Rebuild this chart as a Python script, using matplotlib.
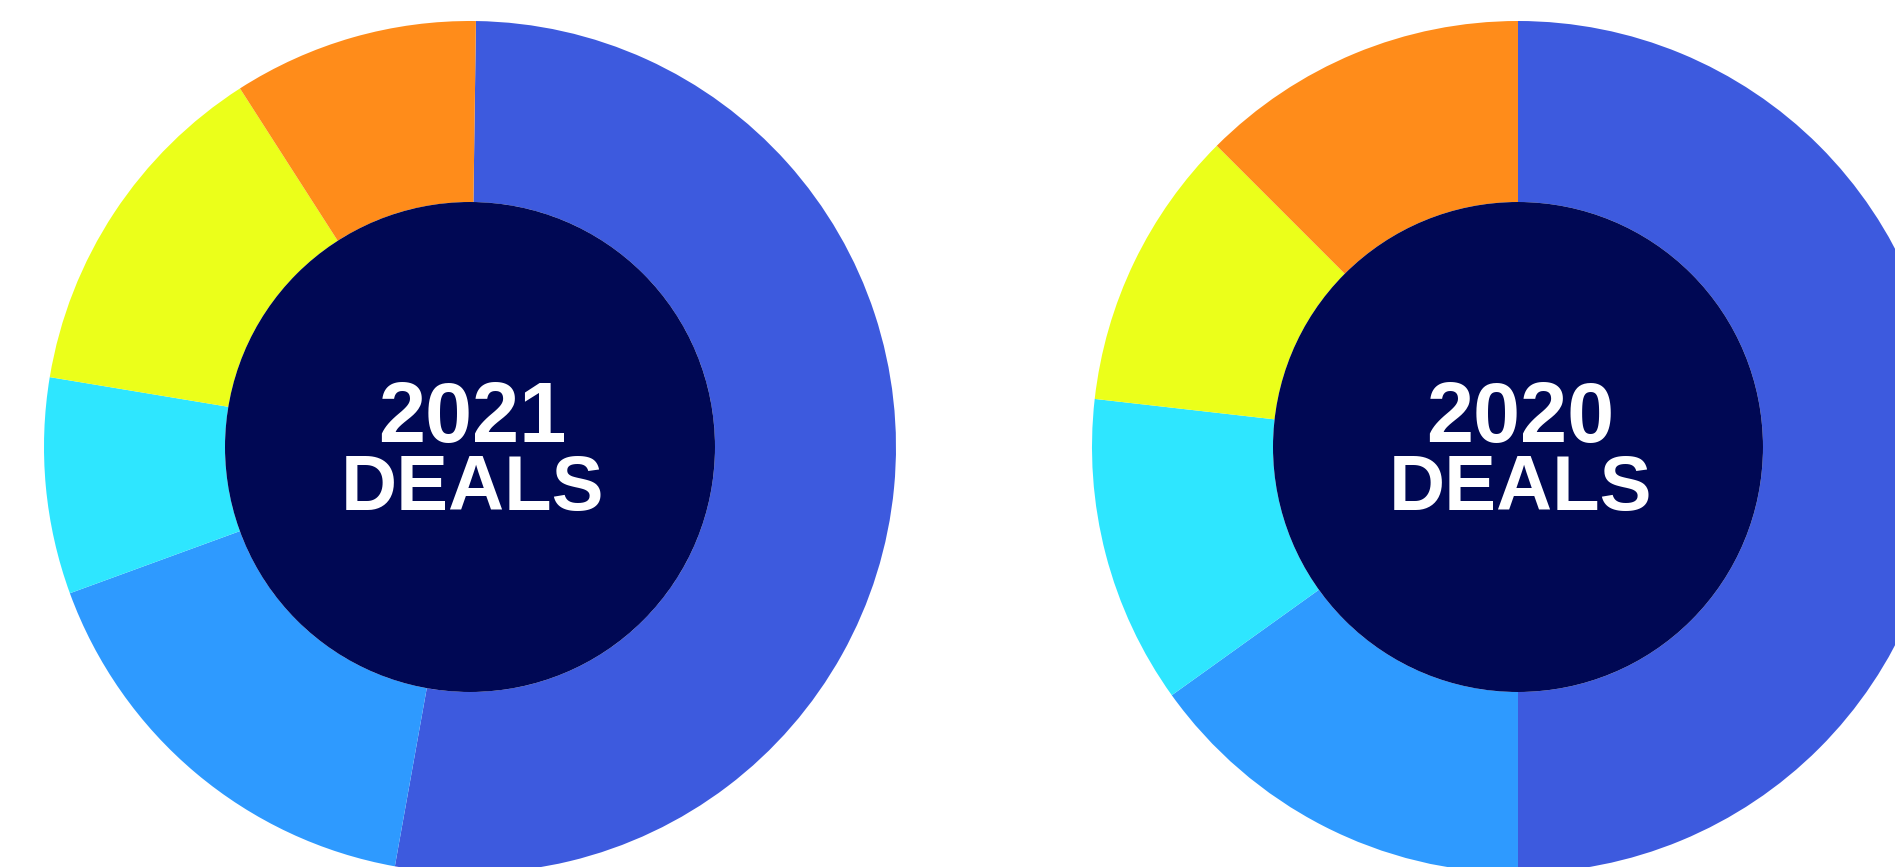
import matplotlib
matplotlib.use("Agg")
import matplotlib.pyplot as plt
from matplotlib.patches import Circle

# share of deals per segment, clockwise from the top (percent)
years = ["2021", "2020"]
deals_2021 = [52.6, 16.6, 8.2, 13.3, 9.3]
deals_2020 = [50.0, 15.1, 11.7, 10.7, 12.5]
start_angles = [89.2, 90.0]
center_label = "DEALS"

seg_colors = ["#3d5ade", "#2e9aff", "#2ee6ff", "#ebff1a", "#ff8c1a"]
navy = "#000854"
font = ["Liberation Sans", "DejaVu Sans"]

W, H = 1895, 867
fig = plt.figure(figsize=(W / 100, H / 100), dpi=100)
ax = fig.add_axes([0, 0, 1, 1])

centers = [(470, H - 447), (1518, H - 447)]
R_out = 426
R_in = 245

for year, vals, start, c in zip(years, [deals_2021, deals_2020], start_angles, centers):
    ax.pie(vals, colors=seg_colors, startangle=start, counterclock=False,
           radius=R_out, center=c, frame=True,
           wedgeprops=dict(width=R_out - R_in, linewidth=0, antialiased=True))
    ax.add_patch(Circle(c, R_in, facecolor=navy, edgecolor="none", zorder=3))
    # two-line label, baselines placed as in the reference
    ax.text(c[0] + 2, c[1] + 5, year, color="white", fontsize=61, fontweight="bold",
            family=font, ha="center", va="baseline", zorder=4)
    ax.text(c[0] + 2, c[1] - 63, center_label, color="white", fontsize=56, fontweight="bold",
            family=font, ha="center", va="baseline", zorder=4)

ax.set_xlim(0, W)
ax.set_ylim(0, H)
ax.set_aspect("equal")
ax.axis("off")

fig.savefig("out.png", dpi=100, facecolor="white")
